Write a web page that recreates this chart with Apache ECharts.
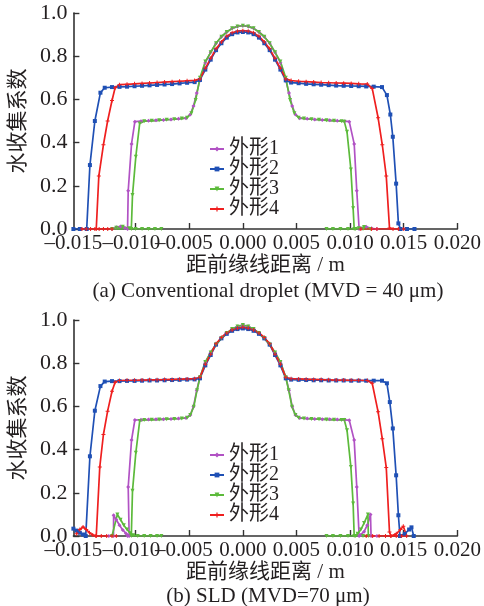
<!DOCTYPE html>
<html>
<head>
<meta charset="utf-8">
<script src="https://cdn.jsdelivr.net/npm/echarts@6/dist/echarts.min.js"></script>
<style>
  html, body { margin: 0; padding: 0; background: #fff; }
  #chart { width: 484px; height: 606px; }
</style>
</head>
<body>
<div id="chart"></div>
<script>
// x axis ticks; the labels of negative values hang left of their tick (minus sign outside),
// and the -0.015 label sits on the y axis
const xTicks = [-0.010, -0.005, 0.000, 0.005, 0.010, 0.015, 0.020]
const xLabelPos = [-0.0158, -0.0104, -0.0055, 0.000, 0.005, 0.010, 0.015, 0.020]
const xTickLabels = ['\u20130.015', '\u20130.010', '\u20130.005', '0.000', '0.005', '0.010', '0.015', '0.020']
const legendNames = ['外形1', '外形2', '外形3', '外形4']
const captions = ['(a) Conventional droplet (MVD = 40 \u03bcm)', '(b) SLD (MVD=70 \u03bcm)']

// (a) conventional droplet, MVD = 40 um
const shape1A = [
  [-0.0122, 0], [-0.0118, 0.008], [-0.0114, 0.012], [-0.0110, 0.005], [-0.01075, 0],
  [-0.01069, 0.177], [-0.01038, 0.394], [-0.01007, 0.497], [-0.0095, 0.499], [-0.0088, 0.501],
  [-0.0081, 0.503], [-0.0074, 0.505], [-0.0067, 0.507], [-0.0060, 0.510], [-0.0053, 0.513],
  [-0.0049, 0.530], [-0.0046, 0.570], [-0.0043, 0.630], [-0.0040, 0.690], [-0.0035, 0.770],
  [-0.0030, 0.818], [-0.0025, 0.860], [-0.0020, 0.890], [-0.0015, 0.912], [-0.0010, 0.929],
  [-0.0005, 0.938], [0.0000, 0.941], [0.0005, 0.938], [0.0010, 0.929], [0.0015, 0.912],
  [0.0020, 0.890], [0.0025, 0.860], [0.0030, 0.818], [0.0035, 0.770], [0.0040, 0.690],
  [0.0043, 0.630], [0.0046, 0.570], [0.0049, 0.530], [0.0053, 0.513], [0.0060, 0.510],
  [0.0067, 0.507], [0.0074, 0.505], [0.0081, 0.503], [0.0088, 0.501], [0.0095, 0.499],
  [0.00992, 0.497], [0.01038, 0.394], [0.01062, 0.177], [0.01084, 0], [0.0110, 0.003],
  [0.0115, 0.010], [0.0120, 0.003], [0.0125, 0]
]
const shape2A = [
  [-0.0158, 0], [-0.0152, 0], [-0.01456, 0], [-0.01426, 0.296], [-0.0138, 0.500],
  [-0.01328, 0.631], [-0.01288, 0.654], [-0.0122, 0.657], [-0.0115, 0.658], [-0.0108, 0.659],
  [-0.0101, 0.661], [-0.0094, 0.663], [-0.0087, 0.665], [-0.0080, 0.667], [-0.0073, 0.669],
  [-0.0066, 0.671], [-0.0059, 0.674], [-0.0052, 0.677], [-0.0045, 0.680], [-0.0040, 0.690],
  [-0.0035, 0.738], [-0.0030, 0.784], [-0.0025, 0.828], [-0.0020, 0.860], [-0.0015, 0.886],
  [-0.0010, 0.902], [-0.0005, 0.910], [0.0000, 0.912], [0.0005, 0.910], [0.0010, 0.902],
  [0.0015, 0.886], [0.0020, 0.860], [0.0025, 0.828], [0.0030, 0.784], [0.0035, 0.738],
  [0.0040, 0.688], [0.0045, 0.678], [0.0052, 0.675], [0.0059, 0.672], [0.0066, 0.670],
  [0.0073, 0.668], [0.0080, 0.666], [0.0087, 0.664], [0.0094, 0.663], [0.0101, 0.662],
  [0.0108, 0.661], [0.0115, 0.660], [0.0122, 0.659], [0.01297, 0.657], [0.01343, 0.620],
  [0.01375, 0.530], [0.01398, 0.427], [0.01429, 0.210], [0.0145, 0.026], [0.0147, 0],
  [0.0153, 0], [0.0160, 0]
]
const shape3A = [
  [-0.0076, 0], [-0.0082, 0], [-0.0088, 0], [-0.0094, 0], [-0.0100, 0], [-0.0106, 0.003],
  [-0.0112, 0.010], [-0.0118, 0.006], [-0.0122, 0], [-0.0104, 0], [-0.01029, 0.157],
  [-0.00998, 0.335], [-0.00962, 0.489], [-0.0092, 0.499], [-0.0085, 0.501], [-0.0078, 0.503],
  [-0.0071, 0.506], [-0.0064, 0.508], [-0.0057, 0.511], [-0.0052, 0.515], [-0.0048, 0.536],
  [-0.0044, 0.597], [-0.0040, 0.700], [-0.0035, 0.775], [-0.0030, 0.818], [-0.0025, 0.860],
  [-0.0020, 0.890], [-0.0015, 0.912], [-0.0010, 0.929], [-0.0005, 0.938], [0.0000, 0.941],
  [0.0005, 0.938], [0.0010, 0.929], [0.0015, 0.912], [0.0020, 0.890], [0.0025, 0.860],
  [0.0030, 0.818], [0.0035, 0.775], [0.0040, 0.700], [0.0044, 0.597], [0.0048, 0.536],
  [0.0052, 0.515], [0.0057, 0.511], [0.0064, 0.508], [0.0071, 0.506], [0.0078, 0.503],
  [0.0085, 0.501], [0.0092, 0.499], [0.00946, 0.497], [0.00971, 0.450], [0.01007, 0.276],
  [0.01028, 0.096], [0.01038, 0], [0.0108, 0.004], [0.0113, 0.009], [0.0119, 0],
  [0.0112, 0], [0.0105, 0], [0.0098, 0], [0.0091, 0], [0.0084, 0], [0.0078, 0]
]
const shape4A = [
  [-0.0122, 0], [-0.0126, 0], [-0.0130, 0], [-0.0134, 0], [-0.0138, 0], [-0.0142, 0],
  [-0.0146, 0], [-0.0150, 0], [-0.01367, 0], [-0.01343, 0.245], [-0.0130, 0.390],
  [-0.01261, 0.500], [-0.0122, 0.595], [-0.01191, 0.654], [-0.01151, 0.668], [-0.0108, 0.670],
  [-0.0101, 0.672], [-0.0094, 0.674], [-0.0087, 0.676], [-0.0080, 0.678], [-0.0073, 0.680],
  [-0.0066, 0.682], [-0.0059, 0.684], [-0.0052, 0.686], [-0.0045, 0.688], [-0.0040, 0.695],
  [-0.0035, 0.744], [-0.0030, 0.790], [-0.0025, 0.834], [-0.0020, 0.866], [-0.0015, 0.892],
  [-0.0010, 0.908], [-0.0005, 0.916], [0.0000, 0.918], [0.0005, 0.916], [0.0010, 0.908],
  [0.0015, 0.892], [0.0020, 0.866], [0.0025, 0.834], [0.0030, 0.790], [0.0035, 0.744],
  [0.0040, 0.695], [0.0045, 0.687], [0.0052, 0.684], [0.0059, 0.682], [0.0066, 0.680],
  [0.0073, 0.678], [0.0080, 0.677], [0.0087, 0.676], [0.0094, 0.675], [0.0101, 0.674],
  [0.0108, 0.672], [0.0116, 0.671], [0.01206, 0.651], [0.01261, 0.515], [0.0130, 0.390],
  [0.01337, 0.245], [0.01367, 0.005], [0.0140, 0], [0.0145, 0], [0.0150, 0],
  [0.0120, 0], [0.0125, 0], [0.0110, 0]
]

// (b) SLD, MVD = 70 um
const shape1B = [
  [-0.0125, 0], [-0.01206, 0], [-0.01205, 0.096], [-0.0118, 0.075], [-0.0115, 0.050],
  [-0.0112, 0.028], [-0.0109, 0.012], [-0.0106, 0], [-0.01075, 0], [-0.01069, 0.227],
  [-0.01038, 0.444], [-0.01007, 0.537], [-0.0095, 0.538], [-0.0088, 0.539], [-0.0081, 0.540],
  [-0.0074, 0.541], [-0.0067, 0.542], [-0.0060, 0.544], [-0.0053, 0.546], [-0.0049, 0.560],
  [-0.0046, 0.600], [-0.0043, 0.675], [-0.0040, 0.735], [-0.0035, 0.805], [-0.0030, 0.850],
  [-0.0025, 0.887], [-0.0020, 0.916], [-0.0015, 0.940], [-0.0010, 0.958], [-0.0005, 0.970],
  [0.0000, 0.977], [0.0005, 0.970], [0.0010, 0.958], [0.0015, 0.940], [0.0020, 0.916],
  [0.0025, 0.887], [0.0030, 0.850], [0.0035, 0.805], [0.0040, 0.735], [0.0043, 0.675],
  [0.0046, 0.600], [0.0049, 0.560], [0.0053, 0.546], [0.0060, 0.544], [0.0067, 0.542],
  [0.0074, 0.541], [0.0081, 0.540], [0.0088, 0.539], [0.0095, 0.538], [0.00992, 0.536],
  [0.01038, 0.444], [0.01062, 0.227], [0.01084, 0], [0.0110, 0.005], [0.0113, 0.020],
  [0.0116, 0.050], [0.0119, 0.100], [0.01195, 0], [0.0125, 0]
]
const shape2B = [
  [-0.0158, 0.034], [-0.0155, 0.025], [-0.0152, 0.015], [-0.0149, 0.007], [-0.01465, 0],
  [-0.01426, 0.369], [-0.0138, 0.580], [-0.01328, 0.694], [-0.01288, 0.715], [-0.0122, 0.717],
  [-0.0115, 0.717], [-0.0108, 0.718], [-0.0101, 0.718], [-0.0094, 0.719], [-0.0087, 0.720],
  [-0.0080, 0.720], [-0.0073, 0.721], [-0.0066, 0.722], [-0.0059, 0.723], [-0.0052, 0.724],
  [-0.0045, 0.725], [-0.0040, 0.730], [-0.0035, 0.790], [-0.0030, 0.838], [-0.0025, 0.886],
  [-0.0020, 0.915], [-0.0015, 0.936], [-0.0010, 0.950], [-0.0005, 0.958], [0.0000, 0.961],
  [0.0005, 0.958], [0.0010, 0.950], [0.0015, 0.936], [0.0020, 0.915], [0.0025, 0.886],
  [0.0030, 0.838], [0.0035, 0.790], [0.0040, 0.730], [0.0045, 0.724], [0.0052, 0.723],
  [0.0059, 0.722], [0.0066, 0.721], [0.0073, 0.721], [0.0080, 0.720], [0.0087, 0.720],
  [0.0094, 0.720], [0.0101, 0.719], [0.0108, 0.719], [0.0115, 0.719], [0.0122, 0.719],
  [0.01297, 0.719], [0.01343, 0.707], [0.0137, 0.620], [0.01398, 0.498], [0.01429, 0.281],
  [0.0145, 0.096], [0.01465, 0], [0.0151, 0.010], [0.0155, 0.030], [0.01572, 0.040],
  [0.01593, 0]
]
const shape3B = [
  [-0.0122, 0], [-0.0117, 0.100], [-0.0114, 0.075], [-0.0111, 0.050], [-0.0108, 0.030],
  [-0.0105, 0.013], [-0.0102, 0.004], [-0.0098, 0], [-0.0092, 0], [-0.0086, 0], [-0.0080, 0],
  [-0.0076, 0], [-0.0104, 0], [-0.01029, 0.209], [-0.00998, 0.385], [-0.00962, 0.532],
  [-0.0092, 0.537], [-0.0085, 0.538], [-0.0078, 0.539], [-0.0071, 0.541], [-0.0064, 0.542],
  [-0.0057, 0.544], [-0.0052, 0.548], [-0.0049, 0.560], [-0.00458, 0.598], [-0.00427, 0.675],
  [-0.0040, 0.735], [-0.0035, 0.805], [-0.0030, 0.850], [-0.0025, 0.887], [-0.0020, 0.916],
  [-0.0015, 0.940], [-0.0010, 0.958], [-0.0005, 0.970], [0.0000, 0.977], [0.0005, 0.970],
  [0.0010, 0.958], [0.0015, 0.940], [0.0020, 0.916], [0.0025, 0.887], [0.0030, 0.850],
  [0.0035, 0.805], [0.0040, 0.735], [0.00427, 0.675], [0.00458, 0.598], [0.0049, 0.560],
  [0.0052, 0.548], [0.0057, 0.544], [0.0064, 0.542], [0.0071, 0.541], [0.0078, 0.539],
  [0.0085, 0.538], [0.0092, 0.537], [0.00946, 0.537], [0.00971, 0.490], [0.01007, 0.320],
  [0.01028, 0.150], [0.01038, 0], [0.0107, 0.010], [0.0110, 0.030], [0.0113, 0.060],
  [0.01166, 0.100], [0.0117, 0], [0.0112, 0], [0.0105, 0], [0.0098, 0], [0.0091, 0],
  [0.0084, 0], [0.0078, 0]
]
const shape4B = [
  [-0.0155, 0.010], [-0.0152, 0.030], [-0.0149, 0.042], [-0.0146, 0.030], [-0.0143, 0.015],
  [-0.0140, 0.005], [-0.0137, 0], [-0.0132, 0], [-0.0127, 0], [-0.0122, 0], [-0.0118, 0],
  [-0.01367, 0], [-0.01334, 0.320], [-0.0130, 0.470], [-0.01261, 0.578], [-0.0122, 0.670],
  [-0.01191, 0.712], [-0.01151, 0.720], [-0.0108, 0.721], [-0.0101, 0.721], [-0.0094, 0.722],
  [-0.0087, 0.723], [-0.0080, 0.723], [-0.0073, 0.724], [-0.0066, 0.725], [-0.0059, 0.726],
  [-0.0052, 0.727], [-0.0045, 0.728], [-0.0040, 0.735], [-0.0035, 0.795], [-0.0030, 0.842],
  [-0.0025, 0.890], [-0.0020, 0.919], [-0.0015, 0.940], [-0.0010, 0.954], [-0.0005, 0.962],
  [0.0000, 0.966], [0.0005, 0.962], [0.0010, 0.954], [0.0015, 0.940], [0.0020, 0.919],
  [0.0025, 0.890], [0.0030, 0.842], [0.0035, 0.795], [0.0040, 0.735], [0.0045, 0.728],
  [0.0052, 0.727], [0.0059, 0.726], [0.0066, 0.725], [0.0073, 0.724], [0.0080, 0.723],
  [0.0087, 0.722], [0.0094, 0.722], [0.0101, 0.721], [0.0108, 0.721], [0.0116, 0.720],
  [0.01206, 0.707], [0.01261, 0.575], [0.0130, 0.450], [0.01337, 0.317], [0.01367, 0.019],
  [0.0138, 0], [0.0143, 0.010], [0.0147, 0.030], [0.01496, 0.045], [0.01527, 0],
  [0.0148, 0], [0.0143, 0], [0.0138, 0], [0.0133, 0], [0.0127, 0], [0.0121, 0], [0.0115, 0]
]

const colors = ['#b152c4', '#1f50b5', '#5cba3b', '#ef1f1f']
const symbols = ['diamond', 'rect', 'triangle', 'path://M3,0H5V3H8V5H5V8H3V5H0V3H3Z']
const symbolRot = [0, 0, 180, 0]
const serif = "'Liberation Serif', 'Noto Sans CJK SC', serif"
const ink = '#231f20'

const chart = echarts.init(document.getElementById('chart'), null, { renderer: 'canvas' })

const X_MIN = -0.0158
const X_MAX = 0.020
const gridTops = [13, 320]

// label text for a custom label position: nearest entry in xLabelPos
function xLabelText(v) {
  let best = 0
  xLabelPos.forEach((p, i) => {
    if (Math.abs(p - v) < Math.abs(xLabelPos[best] - v)) best = i
  })
  return xTickLabels[best]
}

function xAxisFor(i, gap) {
  return {
    type: 'value', gridIndex: i, min: X_MIN, max: X_MAX,
    name: '距前缘线距离 / m', nameLocation: 'middle', nameGap: gap,
    nameTextStyle: { fontFamily: serif, fontSize: 21, color: ink },
    axisLine: { onZero: false, lineStyle: { color: '#333', width: 1.6 } },
    axisTick: { inside: true, length: 6, customValues: xTicks, lineStyle: { color: '#333', width: 1.4 } },
    axisLabel: {
      customValues: xLabelPos, margin: 4, hideOverlap: false,
      showMinLabel: true, showMaxLabel: true,
      fontFamily: serif, fontSize: 21, color: ink,
      formatter: v => xLabelText(v)
    },
    splitLine: { show: false }
  }
}
function yAxisFor(i) {
  return {
    type: 'value', gridIndex: i, min: 0, max: 1, interval: 0.2,
    name: '水收集系数', nameLocation: 'middle', nameRotate: 90, nameGap: 36,
    nameTextStyle: { fontFamily: serif, fontSize: 21, color: ink },
    axisLine: { show: true, onZero: false, lineStyle: { color: '#333', width: 1.6 } },
    axisTick: { show: true, inside: true, length: 6, lineStyle: { color: '#333', width: 1.4 } },
    axisLabel: { fontFamily: serif, fontSize: 22, color: ink, margin: 6, formatter: v => v.toFixed(1) },
    splitLine: { show: false }
  }
}

const dataA = [shape1A, shape2A, shape3A, shape4A]
const dataB = [shape1B, shape2B, shape3B, shape4B]
const series = []
;[dataA, dataB].forEach((set, g) => {
  set.forEach((d, k) => {
    series.push({
      type: 'line', name: legendNames[k], xAxisIndex: g, yAxisIndex: g,
      data: d, showSymbol: true, showAllSymbol: true,
      symbol: symbols[k], symbolSize: 4, symbolRotate: symbolRot[k],
      lineStyle: { color: colors[k], width: 1.7 },
      itemStyle: { color: colors[k] },
      animation: false
    })
  })
})

function legendFor(top) {
  return {
    data: legendNames, orient: 'vertical', left: 204, top: top,
    itemWidth: 14, itemHeight: 6, itemGap: 0,
    textStyle: { fontFamily: serif, fontSize: 20, color: ink, lineHeight: 19.5 },
    selectedMode: false
  }
}

chart.setOption({
  backgroundColor: '#fff',
  animation: false,
  title: [
    { text: captions[0], left: 263, top: 276, textAlign: 'center',
      textStyle: { fontFamily: serif, fontSize: 21, fontWeight: 'normal', color: ink } },
    { text: captions[1], left: 263, top: 581, textAlign: 'center',
      textStyle: { fontFamily: serif, fontSize: 21, fontWeight: 'normal', color: ink } }
  ],
  legend: [legendFor(134), legendFor(440)],
  grid: gridTops.map(t => ({ left: 67, top: t, width: 392, height: 216 })),
  xAxis: [xAxisFor(0, 26), xAxisFor(1, 24)],
  yAxis: [yAxisFor(0), yAxisFor(1)],
  series: series
})
</script>
</body>
</html>
